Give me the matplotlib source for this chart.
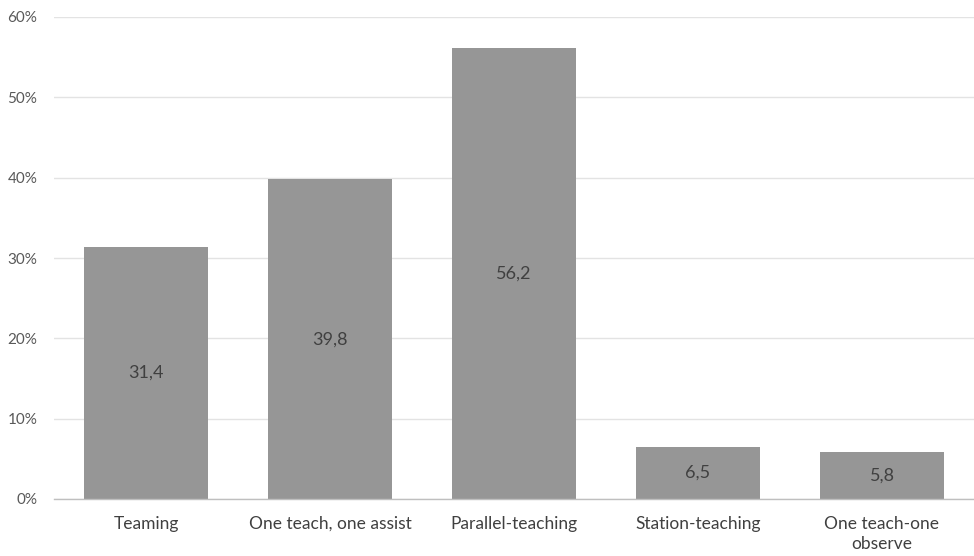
import matplotlib.pyplot as plt

categories = ['Teaming', 'One teach, one assist', 'Parallel-teaching',
              'Station-teaching', 'One teach-one\nobserve']
values = [31.4, 39.8, 56.2, 6.5, 5.8]
value_labels = ['31,4', '39,8', '56,2', '6,5', '5,8']
yticks = [0, 10, 20, 30, 40, 50, 60]
ytick_labels = ['0%', '10%', '20%', '30%', '40%', '50%', '60%']

plt.rcParams['font.family'] = ['Lato', 'DejaVu Sans']

fig = plt.figure(figsize=(9.74, 5.56), dpi=100)
ax = fig.add_axes([54 / 974, 57 / 556, 920 / 974, 482 / 556])

x = range(len(categories))
bars = ax.bar(x, values, width=0.67, color='#969696', zorder=2)

# value labels in the middle of each bar
for bar, lab in zip(bars, value_labels):
    ax.text(bar.get_x() + bar.get_width() / 2, bar.get_height() / 2, lab,
            ha='center', va='center', fontsize=13, color='#404040', zorder=3)

ax.set_xlim(-0.5, len(categories) - 0.5)
ax.set_ylim(0, 60)
ax.set_yticks(yticks)
ax.set_yticklabels(ytick_labels, fontsize=11, color='#595959')
ax.set_xticks(list(x))
ax.set_xticklabels(categories, fontsize=12.5, color='#404040', linespacing=1.3)

ax.grid(axis='y', color='#e3e3e3', linewidth=1, zorder=0)
ax.set_axisbelow(True)
for side in ['top', 'right', 'left']:
    ax.spines[side].set_visible(False)
ax.spines['bottom'].set_color('#bfbfbf')
ax.spines['bottom'].set_linewidth(1)
ax.tick_params(axis='both', length=0)
ax.tick_params(axis='y', pad=12)
ax.tick_params(axis='x', pad=12)

fig.savefig('out.png', dpi=100)
